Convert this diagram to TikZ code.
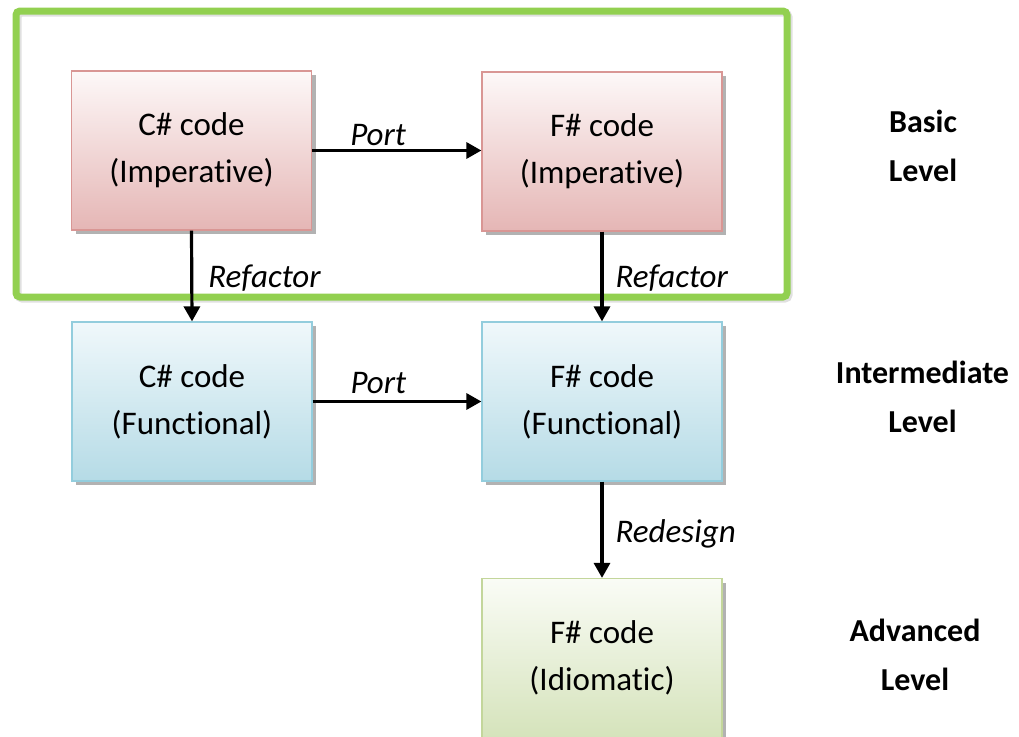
\documentclass[tikz,border=0pt]{standalone}
\usepackage{fontspec}
\setmainfont{Carlito}[Ligatures=NoCommon, RawFeature={-liga;-clig;-calt;-dlig}]
\usetikzlibrary{arrows.meta,shadows}
\newcommand\nolig{\kern0pt{}}
\definecolor{redtop}{HTML}{FDF8F8}
\definecolor{redbot}{HTML}{E5B6B5}
\definecolor{redline}{HTML}{D99694}
\definecolor{bluetop}{HTML}{F0F8FB}
\definecolor{bluebot}{HTML}{B5DBE6}
\definecolor{blueline}{HTML}{93CDDD}
\definecolor{greentop}{HTML}{FAFCF6}
\definecolor{greenbot}{HTML}{D5E3BB}
\definecolor{greenline}{HTML}{C3D69B}
\definecolor{framegreen}{HTML}{92D050}
\tikzset{
  box/.style={draw, line width=1.2pt, minimum width=240pt, minimum height=159pt,
    inner sep=0pt, align=center, shading=axis, shading angle=0,
    font=\fontsize{33}{47}\selectfont,
    drop shadow={shadow xshift=4pt, shadow yshift=-4pt, fill=black, opacity=0.3}},
  redbox/.style={box, draw=redline, top color=redtop, bottom color=redbot},
  bluebox/.style={box, draw=blueline, top color=bluetop, bottom color=bluebot},
  greenbox/.style={box, draw=greenline, top color=greentop, bottom color=greenbot},
  arr/.style={line width=3.2pt, -{Triangle[length=15pt,width=16pt]}},
  lbl/.style={inner sep=0pt, text height=21pt, text depth=0pt,
    font=\fontsize{33}{40}\selectfont\itshape},
  level/.style={inner sep=0pt, align=center, anchor=base,
    font=\fontsize{32}{49}\selectfont\bfseries},
  framestyle/.style={framegreen, line width=7pt, rounded corners=4pt},
  frameshadow/.style={black, opacity=0.12, line width=7pt, rounded corners=4pt},
}
\begin{document}
\begin{tikzpicture}[x=1pt,y=1pt]
\useasboundingbox (0,0) rectangle (1019,-736);
\draw[frameshadow] (18,-13) rectangle (789,-299);
\draw[framestyle] (16,-11) rectangle (787,-297);
\node[redbox] (cimp) at (191.5,-150.5) {C\# code\\(Imperat\nolig ive)};
\node[redbox] (fimp) at (602,-151.5) {F\# code\\(Imperat\nolig ive)};
\node[bluebox] (cfun) at (192,-401.5) {C\# code\\(Funct\nolig ional)};
\node[bluebox] (ffun) at (602,-401.5) {F\# code\\(Funct\nolig ional)};
\node[greenbox] (fidi) at (602,-658) {F\# code\\(Idiomat\nolig ic)};

\draw[arr] (cimp.east) -- (fimp.west |- cimp.east)
  node[lbl, pos=0.39, yshift=16pt] (port1) {Port};
\draw[arr] (cfun.east) -- (ffun.west |- cfun.east)
  node[lbl, pos=0.39, yshift=19pt] (port2) {Port};
\draw[arr] (cimp.south) -- (cfun.north)
  node[lbl, pos=0.51, anchor=west, xshift=15pt] (ref1) {Refactor};
\draw[arr] (fimp.south) -- (ffun.north)
  node[lbl, pos=0.51, anchor=west, xshift=12pt] (ref2) {Refactor};
\draw[arr] (ffun.south) -- (fidi.north)
  node[lbl, pos=0.52, anchor=west, xshift=12pt] (red) {Redesign};

\node[level] (lv1) at (923,-181.7) {Basic\\Level};
\node[level] (lv2) at (922.5,-432) {Intermediate\\Level};
\node[level] (lv3) at (915,-690) {Advanced\\Level};
\end{tikzpicture}
\end{document}
